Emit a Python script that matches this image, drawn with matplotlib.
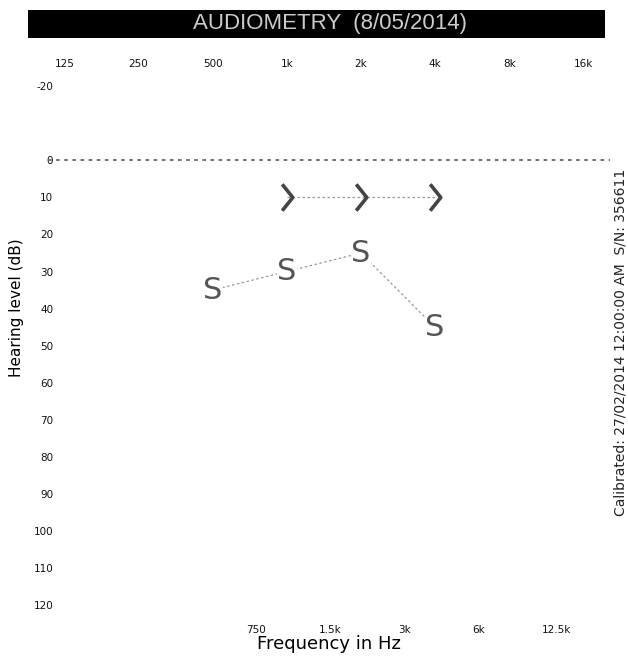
import matplotlib.pyplot as plt
from matplotlib.patches import Rectangle
from matplotlib.path import Path

# octave frequencies (top labels) and inter-octave frequencies (bottom labels)
octave_freqs = [125, 250, 500, 1000, 2000, 4000, 8000, 16000]
octave_labels = ["125", "250", "500", "1k", "2k", "4k", "8k", "16k"]
mid_freqs = [750, 1500, 3000, 6000, 12500]
mid_labels = ["750", "1.5k", "3k", "6k", "12.5k"]
level_ticks = [-20, 0, 10, 20, 30, 40, 50, 60, 70, 80, 90, 100, 110, 120]

# "S" symbol thresholds
s_freqs = [500, 1000, 2000, 4000]
s_levels = [35, 30, 25, 45]

# ">" symbol thresholds
gt_freqs = [1000, 2000, 4000]
gt_levels = [10, 10, 10]

fig = plt.figure(figsize=(6.28, 6.63), dpi=100)
ax = fig.add_axes([0.076, 0.07, 0.895, 0.817])

ax.set_xscale("log")
ax.set_xlim(107, 20500)
ax.set_ylim(123, -23)

# 0 dB reference line
ax.axhline(0, color="#666666", lw=1.3, ls=(0, (2, 2.5)))

# connecting lines
ax.plot(s_freqs, s_levels, color="#999999", lw=0.9, ls=(0, (2, 2)))
ax.plot(gt_freqs, gt_levels, color="#999999", lw=0.9, ls=(0, (2, 2)))

for f, lv in zip(s_freqs, s_levels):
    ax.text(f, lv, "S", fontsize=22, color="#555555", ha="center", va="center",
            bbox=dict(facecolor="white", edgecolor="none", pad=0.3))

chevron = Path([(-0.4, 1), (0.4, 0), (-0.4, -1)],
               [Path.MOVETO, Path.LINETO, Path.LINETO])
ax.plot(gt_freqs, gt_levels, ls="none", marker=chevron, markersize=19,
        markerfacecolor="none", markeredgecolor="#444444", markeredgewidth=2.6)

# axes ticks
ax.set_yticks(level_ticks)
ax.set_yticklabels([str(v) for v in level_ticks], fontsize=7.5, color="#111111")
ax.set_xticks(mid_freqs)
ax.set_xticklabels(mid_labels, fontsize=7.5, color="#111111")
ax.minorticks_off()
ax.tick_params(axis="y", length=0, pad=-4)
ax.tick_params(axis="x", length=0, pad=6)

top = ax.secondary_xaxis("top")
top.set_xticks(octave_freqs)
top.set_xticklabels(octave_labels, fontsize=7.5, color="#111111")
top.tick_params(length=0, pad=4)
top.minorticks_off()
for s in top.spines.values():
    s.set_visible(False)
for s in ax.spines.values():
    s.set_visible(False)

ax.set_xlabel("Frequency in Hz", fontsize=13, labelpad=0)
fig.text(17 / 628, 1 - 308 / 663, "Hearing level (dB)", rotation=90,
         fontsize=11, ha="center", va="center")

# title bar
fig.patches.append(Rectangle((28 / 628, 1 - 38 / 663), 577 / 628, 28 / 663,
                             transform=fig.transFigure, facecolor="black",
                             edgecolor="none"))
fig.text(330 / 628, 1 - 24 / 663, "AUDIOMETRY  (8/05/2014)", color="#cccccc",
         fontsize=16, ha="center", va="center", family="Liberation Sans")

# calibration note
fig.text(621 / 628, 1 - 342 / 663,
         "Calibrated: 27/02/2014 12:00:00 AM  S/N: 356611",
         rotation=90, fontsize=10, ha="center", va="center", color="#222222")

fig.savefig("out.png", dpi=100)
